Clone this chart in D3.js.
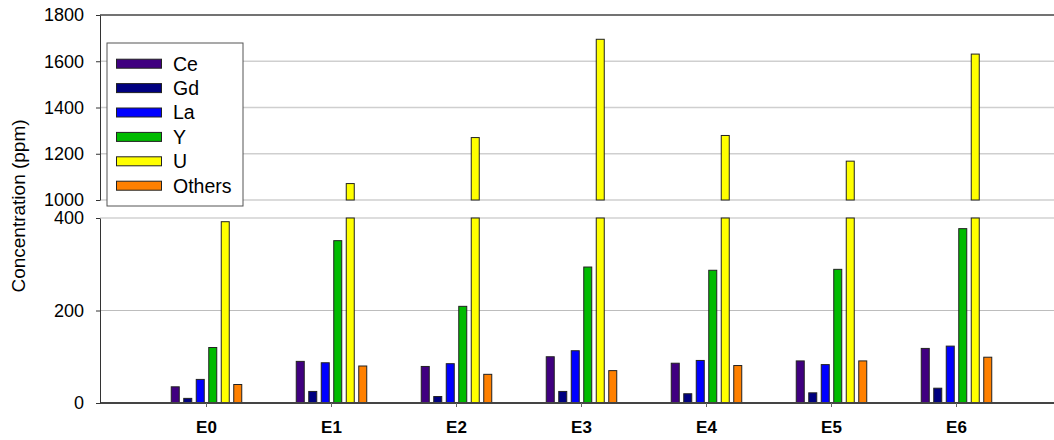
<!DOCTYPE html>
<html><head><meta charset="utf-8">
<script src="https://cdn.jsdelivr.net/npm/d3@7"></script>
<style>
body{margin:0;background:#fff;}
svg{display:block;font-family:"Liberation Sans",Arial,sans-serif;}
</style></head>
<body><svg id="chart" width="1054" height="440"></svg>
<script>
const categories = ["E0","E1","E2","E3","E4","E5","E6"];
const seriesNames = ["Ce","Gd","La","Y","U","Others"];
const Ce     = [35, 90, 79, 100, 86, 91, 118];
const Gd     = [10, 25, 14, 25, 20, 22, 32];
const La     = [51, 87, 85, 113, 92, 83, 123];
const Yv     = [120, 351, 209, 294, 287, 289, 377];
const U      = [392, 1071, 1270, 1695, 1279, 1168, 1631];
const Others = [40, 80, 62, 70, 81, 91, 99];
const colors = ["#400080","#000080","#0000ff","#00bb00","#ffff00","#ff8000"];
const upperTicks = [1000,1200,1400,1600,1800];
const lowerTicks = [0,200,400];

const seriesValues = [Ce, Gd, La, Yv, U, Others];
const svg = d3.select("#chart");
const left = 100, right = 1054;

const x = d3.scaleBand().domain(categories).range([144, 1019]);
const xs = d3.scaleBand().domain(seriesNames).range([0, x.bandwidth()*0.6]).paddingInner(0.36).paddingOuter(0.18);
const groupOffset = (x.bandwidth() - x.bandwidth()*0.6)/2;

const yU = d3.scaleLinear().domain([1000,1800]).range([200,15]);
const yL = d3.scaleLinear().domain([0,400]).range([403,218]);

// gridlines
svg.append("g").selectAll("line").data(upperTicks).join("line")
  .attr("x1", left).attr("x2", right)
  .attr("y1", d=>yU(d)).attr("y2", d=>yU(d))
  .attr("stroke", d=> d===1800 ? "#444" : "#cfcfcf")
  .attr("stroke-width", d=> d===1800 ? 1.5 : 1.6);
svg.append("g").selectAll("line").data(lowerTicks.filter(d=>d>0)).join("line")
  .attr("x1", left).attr("x2", right)
  .attr("y1", d=>yL(d)).attr("y2", d=>yL(d))
  .attr("stroke", d=> d===400 ? "#d2d2d2" : "#bdbdbd")
  .attr("stroke-width", d=> d===400 ? 1.6 : 1);

// bars
const data = [];
categories.forEach((c,i)=>{
  seriesNames.forEach((s,j)=>{
    data.push({c, s, v: seriesValues[j][i], color: colors[j]});
  });
});
const bx = d => x(d.c) + groupOffset + xs(d.s);
svg.append("g").selectAll("rect").data(data).join("rect")
  .attr("x", bx).attr("width", xs.bandwidth())
  .attr("y", d=>yL(Math.min(d.v,400)))
  .attr("height", d=>yL(0)-yL(Math.min(d.v,400)))
  .attr("fill", d=>d.color).attr("stroke","#222").attr("stroke-width",1);
svg.append("g").selectAll("rect").data(data.filter(d=>d.v>1000)).join("rect")
  .attr("x", bx).attr("width", xs.bandwidth())
  .attr("y", d=>yU(d.v))
  .attr("height", d=>yU(1000)-yU(d.v))
  .attr("fill", d=>d.color).attr("stroke","#222").attr("stroke-width",1);

// baseline
svg.append("line").attr("x1",left).attr("x2",right).attr("y1",yL(0)).attr("y2",yL(0))
  .attr("stroke","#444").attr("stroke-width",1.8);

// axes
function styleAxis(g){
  g.select(".domain").attr("stroke","#333");
  g.selectAll(".tick line").attr("stroke","#333");
  g.selectAll(".tick text").attr("font-size","18px").attr("fill","#000")
   .attr("font-family","'Liberation Sans',Arial,sans-serif");
}
svg.append("g").attr("transform",`translate(${left},0)`)
  .call(d3.axisLeft(yU).tickValues(upperTicks).tickSize(4).tickSizeOuter(0).tickPadding(12).tickFormat(d3.format("d")))
  .call(styleAxis);
svg.append("g").attr("transform",`translate(${left},0)`)
  .call(d3.axisLeft(yL).tickValues(lowerTicks).tickSize(4).tickSizeOuter(0).tickPadding(12).tickFormat(d3.format("d")))
  .call(styleAxis);

const xAxis = svg.append("g").attr("transform",`translate(0,${yL(0)})`)
  .call(d3.axisBottom(x).tickSize(4).tickPadding(14));
xAxis.select(".domain").remove();
xAxis.selectAll(".tick line").attr("stroke","#666");
xAxis.selectAll(".tick text").attr("font-size","17px").attr("font-weight","bold").attr("fill","#000")
  .attr("font-family","'Liberation Sans',Arial,sans-serif");

// y label
svg.append("text").attr("transform","translate(25,206) rotate(-90)")
  .attr("text-anchor","middle").attr("font-size","19px").attr("fill","#000")
  .text("Concentration (ppm)");

// legend
const lg = svg.append("g");
lg.append("rect").attr("x",107).attr("y",43).attr("width",136).attr("height",163)
  .attr("fill","#fff").attr("stroke","#555").attr("stroke-width",1);
const items = lg.selectAll("g.item").data(seriesNames).join("g")
  .attr("transform",(d,i)=>`translate(0,${63.7 + i*24.4})`);
items.append("rect").attr("x",116.5).attr("y",-4.5).attr("width",45).attr("height",9)
  .attr("fill",(d,i)=>colors[i]).attr("stroke","#222").attr("stroke-width",1);
items.append("text").attr("x",173).attr("y",0).attr("dy","0.35em")
  .attr("font-size","19.5px").attr("fill","#000").text(d=>d);
</script></body></html>
